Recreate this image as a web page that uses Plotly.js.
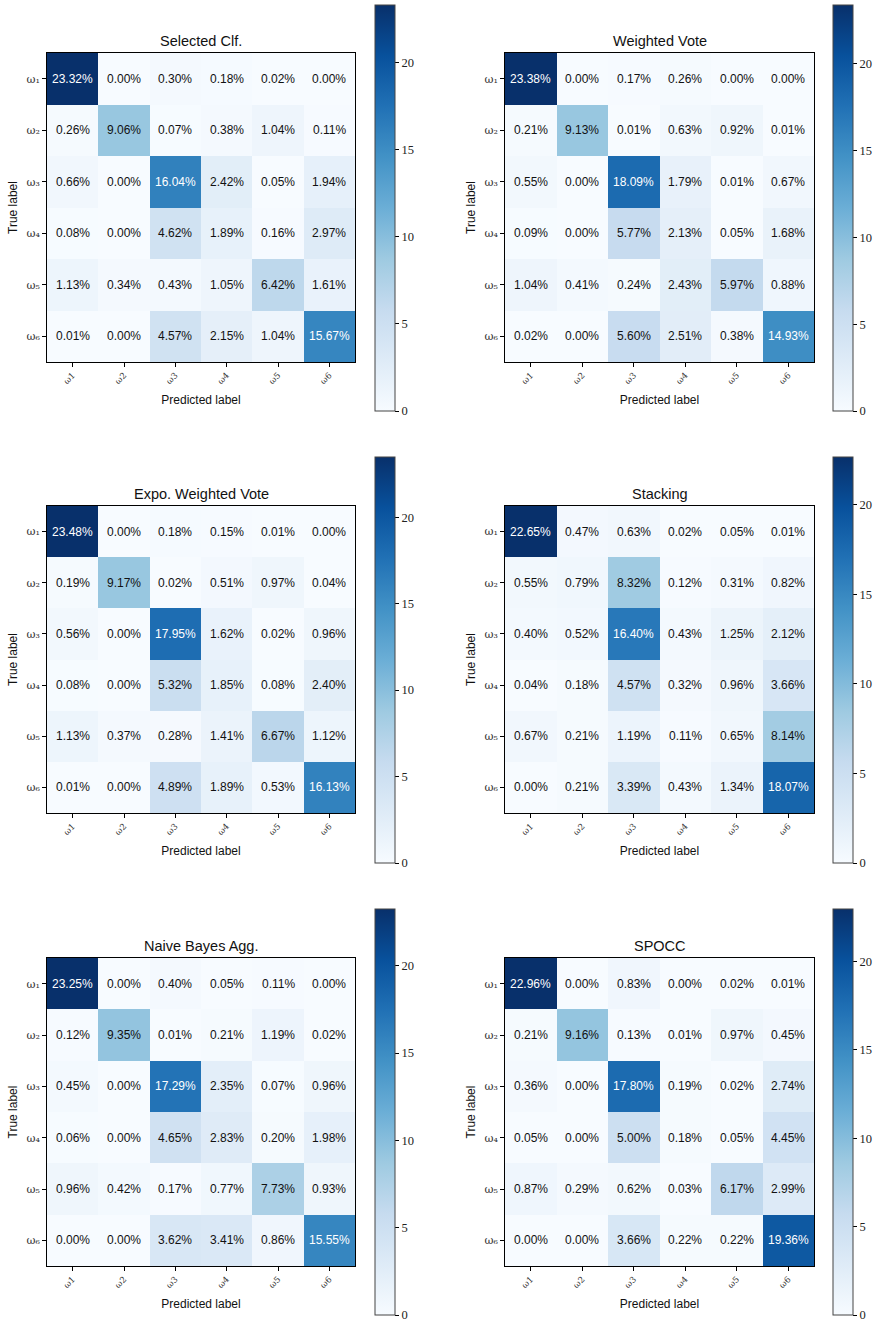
<!DOCTYPE html>
<html>
<head>
<meta charset="utf-8">
<script src="https://cdn.plot.ly/plotly-3.0.1.min.js"></script>
<style>html,body{margin:0;padding:0;background:#fff;}#chart{width:873px;height:1321px;}</style>
</head>
<body>
<div id="chart"></div>
<script>
// ---- data ----
const classIdx = [0, 1, 2, 3, 4, 5];
const yTickLabels = ['ω₁', 'ω₂', 'ω₃', 'ω₄', 'ω₅', 'ω₆'];
const xTickLabels = ['ω1', 'ω2', 'ω3', 'ω4', 'ω5', 'ω6'];
const cbTicks = [0, 5, 10, 15, 20];
const panelTitles = ['Selected Clf.', 'Weighted Vote', 'Expo. Weighted Vote', 'Stacking', 'Naive Bayes Agg.', 'SPOCC'];

const selectedClf = [
  [23.32, 0.00, 0.30, 0.18, 0.02, 0.00],
  [0.26, 9.06, 0.07, 0.38, 1.04, 0.11],
  [0.66, 0.00, 16.04, 2.42, 0.05, 1.94],
  [0.08, 0.00, 4.62, 1.89, 0.16, 2.97],
  [1.13, 0.34, 0.43, 1.05, 6.42, 1.61],
  [0.01, 0.00, 4.57, 2.15, 1.04, 15.67]
];
const weightedVote = [
  [23.38, 0.00, 0.17, 0.26, 0.00, 0.00],
  [0.21, 9.13, 0.01, 0.63, 0.92, 0.01],
  [0.55, 0.00, 18.09, 1.79, 0.01, 0.67],
  [0.09, 0.00, 5.77, 2.13, 0.05, 1.68],
  [1.04, 0.41, 0.24, 2.43, 5.97, 0.88],
  [0.02, 0.00, 5.60, 2.51, 0.38, 14.93]
];
const expoWeightedVote = [
  [23.48, 0.00, 0.18, 0.15, 0.01, 0.00],
  [0.19, 9.17, 0.02, 0.51, 0.97, 0.04],
  [0.56, 0.00, 17.95, 1.62, 0.02, 0.96],
  [0.08, 0.00, 5.32, 1.85, 0.08, 2.40],
  [1.13, 0.37, 0.28, 1.41, 6.67, 1.12],
  [0.01, 0.00, 4.89, 1.89, 0.53, 16.13]
];
const stacking = [
  [22.65, 0.47, 0.63, 0.02, 0.05, 0.01],
  [0.55, 0.79, 8.32, 0.12, 0.31, 0.82],
  [0.40, 0.52, 16.40, 0.43, 1.25, 2.12],
  [0.04, 0.18, 4.57, 0.32, 0.96, 3.66],
  [0.67, 0.21, 1.19, 0.11, 0.65, 8.14],
  [0.00, 0.21, 3.39, 0.43, 1.34, 18.07]
];
const naiveBayesAgg = [
  [23.25, 0.00, 0.40, 0.05, 0.11, 0.00],
  [0.12, 9.35, 0.01, 0.21, 1.19, 0.02],
  [0.45, 0.00, 17.29, 2.35, 0.07, 0.96],
  [0.06, 0.00, 4.65, 2.83, 0.20, 1.98],
  [0.96, 0.42, 0.17, 0.77, 7.73, 0.93],
  [0.00, 0.00, 3.62, 3.41, 0.86, 15.55]
];
const spocc = [
  [22.96, 0.00, 0.83, 0.00, 0.02, 0.01],
  [0.21, 9.16, 0.13, 0.01, 0.97, 0.45],
  [0.36, 0.00, 17.80, 0.19, 0.02, 2.74],
  [0.05, 0.00, 5.00, 0.18, 0.05, 4.45],
  [0.87, 0.29, 0.62, 0.03, 6.17, 2.99],
  [0.00, 0.00, 3.66, 0.22, 0.22, 19.36]
];
const matrices = [selectedClf, weightedVote, expoWeightedVote, stacking, naiveBayesAgg, spocc];

// ---- styling / layout ----
const W = 873, H = 1321;
const blues = [
  [0.000, '#f7fbff'], [0.125, '#deebf7'], [0.250, '#c6dbef'], [0.375, '#9ecae1'],
  [0.500, '#6baed6'], [0.625, '#4292c6'], [0.750, '#2171b5'], [0.875, '#08519c'], [1.000, '#08306b']
];
const colX = [[47, 355], [505, 814]];
const rowY = [[53, 362], [506, 813], [958, 1266]];
const cbX = [375, 833];
const cbY = [[5, 411], [457, 863], [909, 1315]];
const sans = 'Liberation Sans, Arial, Helvetica, sans-serif';
const serif = 'DejaVu Serif, Liberation Serif, serif';
const serif2 = 'Liberation Serif, DejaVu Serif, serif';

const traces = [];
const annotations = [];
const layout = {
  width: W, height: H,
  margin: {l: 0, r: 0, t: 0, b: 0},
  paper_bgcolor: '#fff', plot_bgcolor: '#fff',
  showlegend: false,
  annotations: annotations
};

matrices.forEach((z, i) => {
  const col = i % 2, row = Math.floor(i / 2);
  const n = i + 1;
  const xa = 'x' + (n === 1 ? '' : n), ya = 'y' + (n === 1 ? '' : n);
  const xKey = 'xaxis' + (n === 1 ? '' : n), yKey = 'yaxis' + (n === 1 ? '' : n);
  const zmax = Math.max(...z.flat());
  const zmin = Math.min(...z.flat());
  traces.push({
    type: 'heatmap', z: z, x: classIdx, y: classIdx,
    xaxis: xa, yaxis: ya,
    colorscale: blues, zmin: zmin, zmax: zmax,
    hoverinfo: 'skip',
    colorbar: {
      x: cbX[col] / W, xanchor: 'left', xref: 'paper',
      y: 1 - (cbY[row][0] + cbY[row][1]) / 2 / H, yanchor: 'middle', yref: 'paper',
      len: cbY[row][1] - cbY[row][0], lenmode: 'pixels',
      thickness: 20, thicknessmode: 'pixels',
      outlinewidth: 1, outlinecolor: '#444',
      ticks: 'outside', ticklen: 4, tickwidth: 1, tickcolor: '#000',
      tickvals: cbTicks, ticktext: cbTicks.map(String),
      ticklabeloverflow: 'allow',
      tickfont: {family: serif2, size: 12.5, color: '#222'},
      xpad: 0, ypad: 0
    }
  });
  const axCommon = {
    showline: true, mirror: true, linecolor: '#000', linewidth: 1,
    ticks: 'outside', ticklen: 4, tickwidth: 1, tickcolor: '#000',
    showgrid: false, zeroline: false, tickvals: classIdx,
    fixedrange: true
  };
  layout[xKey] = Object.assign({}, axCommon, {
    domain: [colX[col][0] / W, colX[col][1] / W],
    anchor: ya, range: [-0.5, 5.5],
    ticktext: xTickLabels,
    tickangle: -45,
    tickfont: {family: serif, size: 8.5, color: '#333'},
    title: {text: 'Predicted label', font: {family: sans, size: 12, color: '#111'}, standoff: 10}
  });
  layout[yKey] = Object.assign({}, axCommon, {
    domain: [1 - rowY[row][1] / H, 1 - rowY[row][0] / H],
    anchor: xa, range: [5.5, -0.5],
    ticktext: yTickLabels,
    tickfont: {family: serif, size: 11, color: '#333'},
    title: {text: 'True label', font: {family: sans, size: 12, color: '#111'}, standoff: 6}
  });
  annotations.push({
    xref: 'paper', yref: 'paper',
    x: (colX[col][0] + colX[col][1]) / 2 / W, y: 1 - rowY[row][0] / H,
    xanchor: 'center', yanchor: 'bottom', yshift: 2,
    text: panelTitles[i], showarrow: false,
    font: {family: sans, size: 14.5, color: '#111'}
  });
  z.forEach((rowVals, r) => rowVals.forEach((v, c) => {
    annotations.push({
      xref: xa, yref: ya, x: classIdx[c], y: classIdx[r],
      text: v.toFixed(2) + '%', showarrow: false,
      font: {family: sans, size: 12, color: v > zmax / 2 ? '#ffffff' : '#111111'}
    });
  }));
});

Plotly.newPlot('chart', traces, layout, {staticPlot: true, displayModeBar: false});
</script>
</body>
</html>
